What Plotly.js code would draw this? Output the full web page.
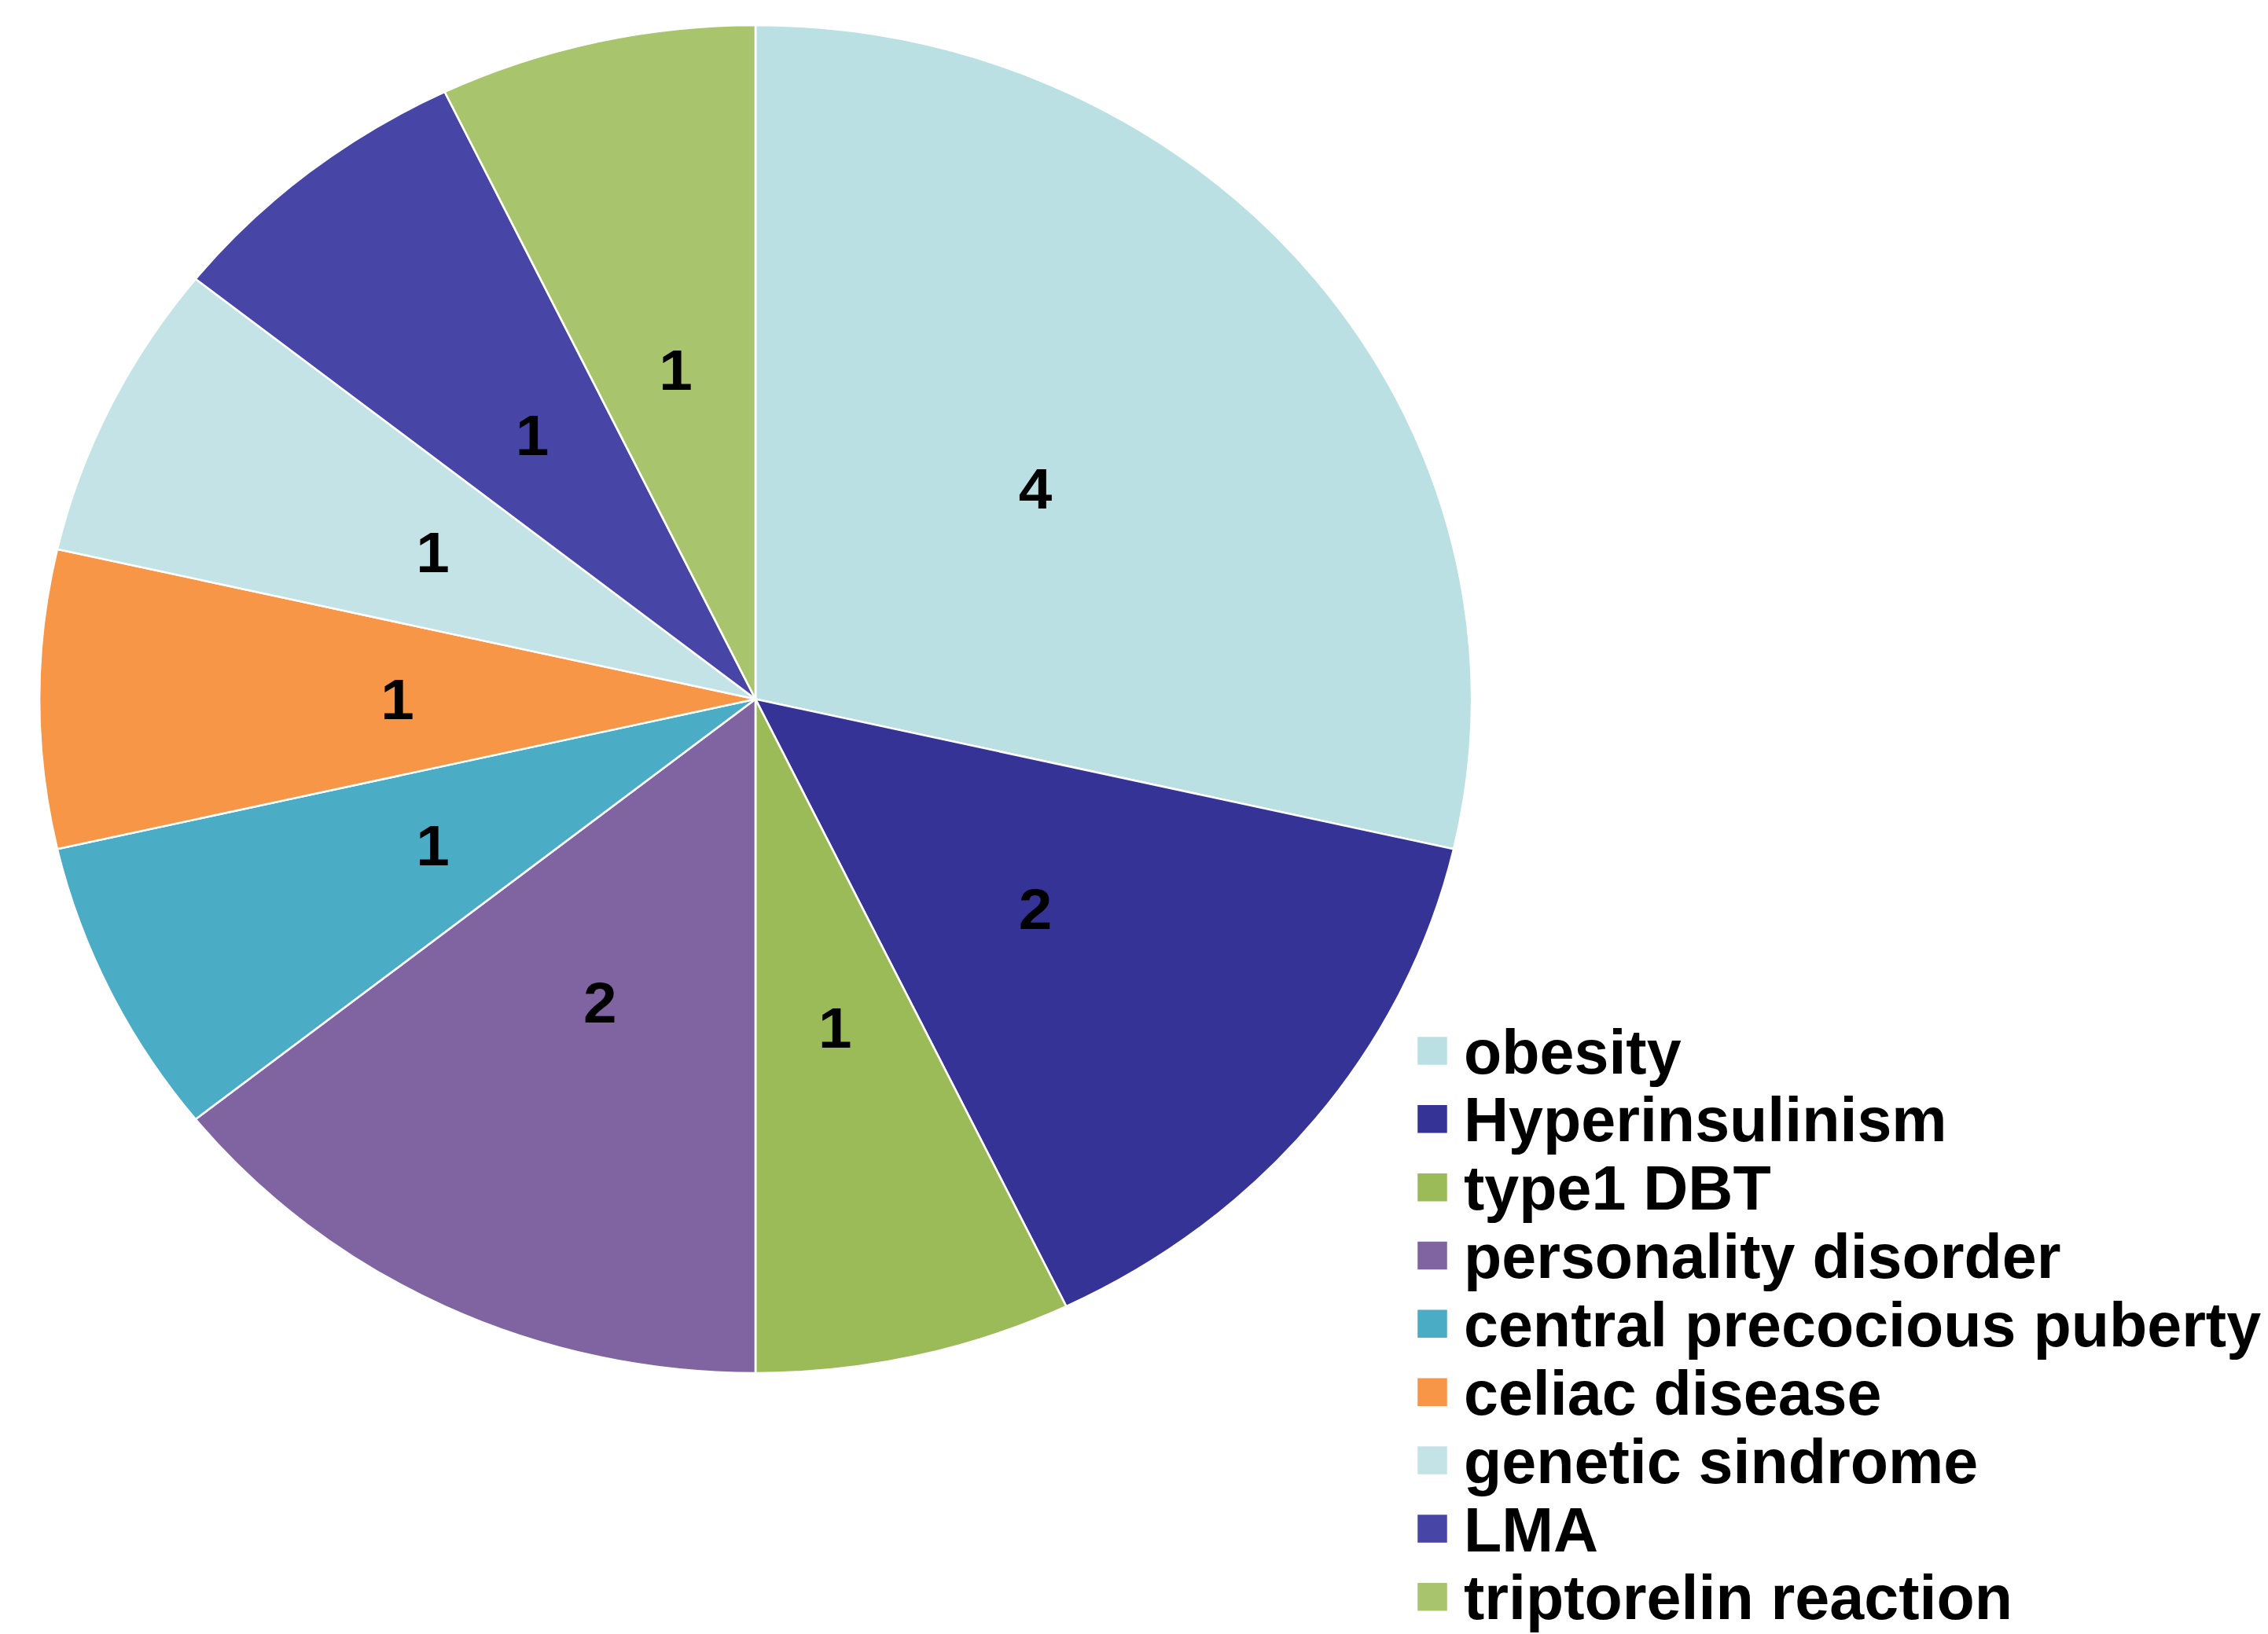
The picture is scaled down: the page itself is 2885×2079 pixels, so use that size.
<!DOCTYPE html>
<html>
<head>
<meta charset="utf-8">
<script src="https://cdn.plot.ly/plotly-3.0.1.min.js"></script>
<style>
  html, body { margin: 0; padding: 0; background: #ffffff; }
  #chart { width: 2885px; height: 2079px; }
</style>
</head>
<body>
<div id="chart"></div>
<script>
// ---- data ----
const labels = ['obesity', 'Hyperinsulinism', 'type1 DBT', 'personality disorder',
                'central precocious puberty', 'celiac disease', 'genetic sindrome',
                'LMA', 'triptorelin reaction'];
const values = [4, 2, 1, 2, 1, 1, 1, 1, 1];
const colors = ['#BAE0E3', '#353396', '#9BBB59', '#8064A1', '#4BACC6',
                '#F79646', '#C3E3E6', '#4746A6', '#A8C46C'];

// ---- geometry / style ----
const W = 2885, H = 2079;
const CX = 961, CY = 889.5;
const RY = 857.5, RX = 911;
const LABEL_FRAC = 0.5;
const HOLE = 0.7;
const FONT = 'Liberation Sans, Arial, sans-serif';

function dom(r) {
  return { x: [(CX - r) / W, (CX + r) / W], y: [1 - (CY + r) / H, 1 - (CY - r) / H] };
}
const labelR = LABEL_FRAC * RY / ((1 + HOLE) / 2);

const legendLabels = labels.map(s => '<span style="font-size:79px">' + s + '</span>');

const mainPie = {
  type: 'pie',
  labels: legendLabels,
  values: values,
  sort: false,
  direction: 'clockwise',
  rotation: 0,
  marker: { colors: colors, line: { color: '#ffffff', width: 2.5 } },
  textinfo: 'none',
  hoverinfo: 'skip',
  domain: dom(RY),
  showlegend: true
};

const labelPie = {
  type: 'pie',
  labels: legendLabels,
  values: values,
  sort: false,
  direction: 'clockwise',
  rotation: 0,
  hole: HOLE,
  marker: { colors: values.map(() => 'rgba(0,0,0,0)'), line: { width: 0 } },
  textinfo: 'value',
  textposition: 'inside',
  insidetextorientation: 'horizontal',
  textfont: { family: FONT, size: 72, color: '#000000', weight: 'bold' },
  hoverinfo: 'skip',
  domain: dom(labelR),
  showlegend: false
};

const layout = {
  width: W, height: H,
  margin: { l: 0, r: 0, t: 0, b: 0, autoexpand: false },
  paper_bgcolor: '#ffffff',
  showlegend: true,
  legend: {
    x: 1782 / W, xanchor: 'left',
    y: 1 - 1292 / H, yanchor: 'top',
    font: { family: FONT, size: 64.5, color: '#000000', weight: 'bold' },
    bgcolor: 'rgba(0,0,0,0)',
    itemwidth: 70,
    traceorder: 'normal'
  }
};

Plotly.newPlot('chart', [mainPie, labelPie], layout, { staticPlot: true }).then(function () {
  const sx = RX / RY;
  document.querySelectorAll('.pielayer').forEach(function (g) {
    g.setAttribute('transform', 'translate(' + CX + ',0) scale(' + sx + ',1) translate(' + (-CX) + ',0)');
  });
  document.querySelectorAll('.legendpie').forEach(function (p) {
    p.setAttribute('d', 'M20,15.5H-20V-22.5H20Z');
  });
});
</script>
</body>
</html>
